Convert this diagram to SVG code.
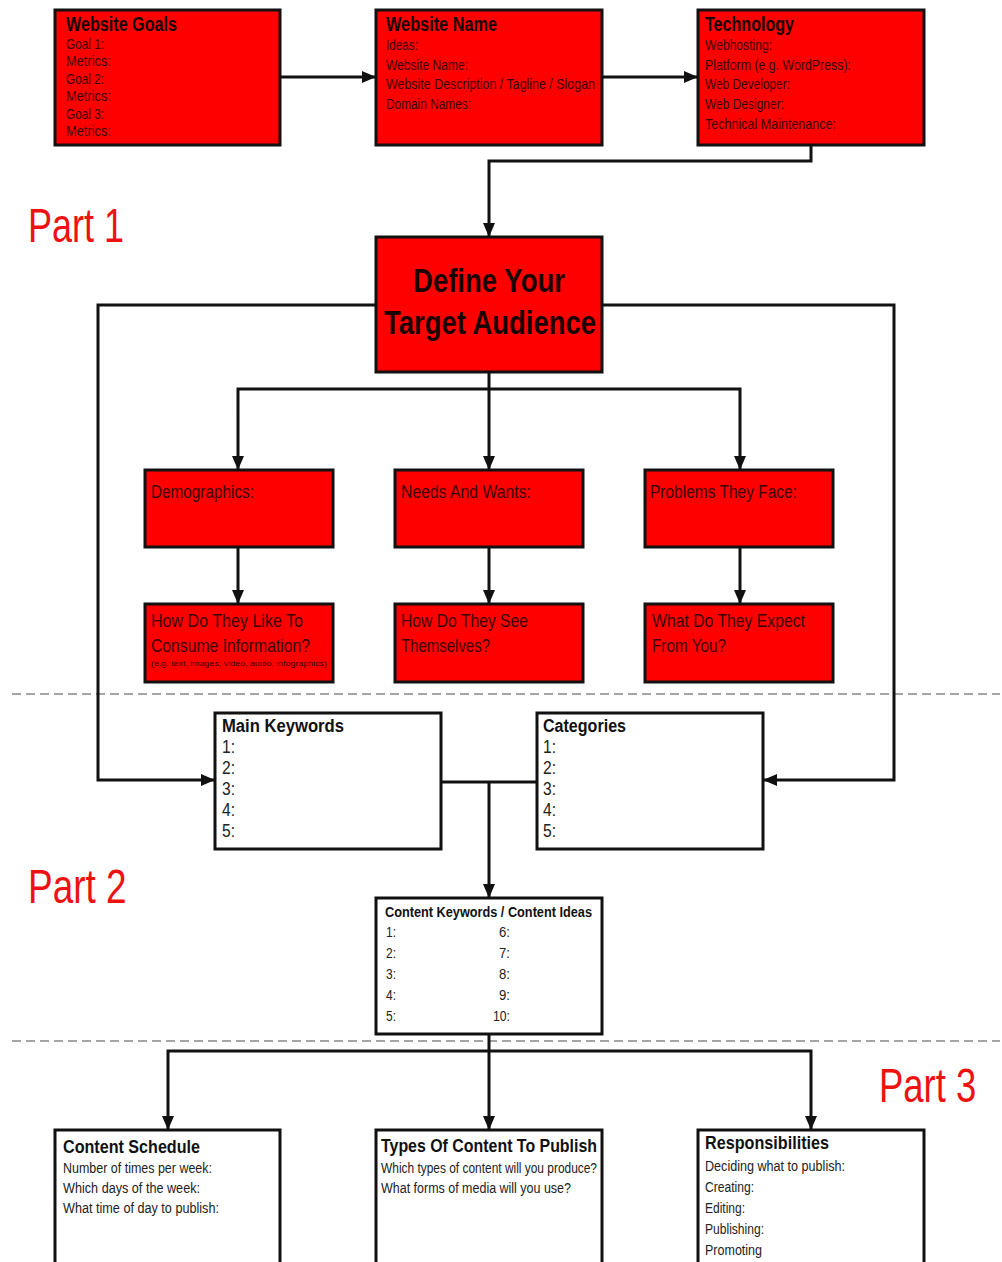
<svg xmlns="http://www.w3.org/2000/svg" width="1002" height="1262" viewBox="0 0 1002 1262">
<style>
text{font-family:"Liberation Sans",Arial,sans-serif}
.rbox{fill:#ff0000;stroke:#111;stroke-width:3}
.wbox{fill:#fff;stroke:#111;stroke-width:3}
.t{font-weight:bold;fill:#1a0000}
.rb{fill:#3a0000}
.wb{fill:#222}
.wt{font-weight:bold;fill:#111}
.part{fill:#ee1111;font-size:48px}
.conn{fill:none;stroke:#111;stroke-width:3}
.dash{stroke:#888;stroke-width:1.5;stroke-dasharray:9,5}
</style>
<defs>
<marker id="ah" markerUnits="userSpaceOnUse" markerWidth="14" markerHeight="12" refX="14" refY="6" orient="auto">
<path d="M0,0 L14,6 L0,12 z" fill="#111"/>
</marker>
</defs>
<rect width="1002" height="1262" fill="#fff"/>
<line class="dash" x1="12" y1="694" x2="1000" y2="694"/>
<line class="dash" x1="12" y1="1041" x2="1000" y2="1041"/>
<text class="part" transform="translate(28,242) scale(0.75,1)">Part 1</text>
<text class="part" transform="translate(28,903) scale(0.77,1)">Part 2</text>
<text class="part" transform="translate(879,1102) scale(0.76,1)">Part 3</text>
<g id="connectors">
<line class="conn" x1="280" y1="77" x2="376" y2="77" marker-end="url(#ah)"/>
<line class="conn" x1="602" y1="77" x2="698" y2="77" marker-end="url(#ah)"/>
<polyline class="conn" points="811,145 811,161 489,161 489,237" marker-end="url(#ah)"/>
<polyline class="conn" points="376,305 98,305 98,780 215,780" marker-end="url(#ah)"/>
<polyline class="conn" points="602,305 894,305 894,780 763,780" marker-end="url(#ah)"/>
<line class="conn" x1="489" y1="372" x2="489" y2="470" marker-end="url(#ah)"/>
<polyline class="conn" points="238,420 238,389 740,389 740,470" marker-end="url(#ah)"/>
<line class="conn" x1="238" y1="420" x2="238" y2="470" marker-end="url(#ah)"/>
<line class="conn" x1="238" y1="547" x2="238" y2="604" marker-end="url(#ah)"/>
<line class="conn" x1="489" y1="547" x2="489" y2="604" marker-end="url(#ah)"/>
<line class="conn" x1="740" y1="547" x2="740" y2="604" marker-end="url(#ah)"/>
<line class="conn" x1="441" y1="782" x2="537" y2="782"/>
<line class="conn" x1="489" y1="782" x2="489" y2="898" marker-end="url(#ah)"/>
<line class="conn" x1="489" y1="1034" x2="489" y2="1130" marker-end="url(#ah)"/>
<polyline class="conn" points="168,1100 168,1051 811,1051 811,1130" marker-end="url(#ah)"/>
<line class="conn" x1="168" y1="1100" x2="168" y2="1130" marker-end="url(#ah)"/>
</g>
<g id="website-goals">
<rect class="rbox" x="55" y="10" width="225" height="135"/>
<text class="t" x="66" y="31" font-size="20" textLength="111" lengthAdjust="spacingAndGlyphs">Website Goals</text>
<g class="rb" font-size="14"><text x="66" y="49" textLength="38" lengthAdjust="spacingAndGlyphs">Goal 1:</text><text x="66" y="66" textLength="45" lengthAdjust="spacingAndGlyphs">Metrics:</text><text x="66" y="84" textLength="38" lengthAdjust="spacingAndGlyphs">Goal 2:</text><text x="66" y="101" textLength="45" lengthAdjust="spacingAndGlyphs">Metrics:</text><text x="66" y="119" textLength="38" lengthAdjust="spacingAndGlyphs">Goal 3:</text><text x="66" y="136" textLength="45" lengthAdjust="spacingAndGlyphs">Metrics:</text></g>
</g>
<g id="website-name">
<rect class="rbox" x="376" y="10" width="226" height="135"/>
<text class="t" x="386" y="31" font-size="20" textLength="111" lengthAdjust="spacingAndGlyphs">Website Name</text>
<g class="rb" font-size="14"><text x="386" y="50" textLength="32" lengthAdjust="spacingAndGlyphs">Ideas:</text><text x="386" y="70" textLength="82" lengthAdjust="spacingAndGlyphs">Website Name:</text><text x="386" y="89" textLength="209" lengthAdjust="spacingAndGlyphs">Website Description / Tagline / Slogan</text><text x="386" y="109" textLength="85" lengthAdjust="spacingAndGlyphs">Domain Names:</text></g>
</g>
<g id="technology">
<rect class="rbox" x="698" y="10" width="226" height="135"/>
<text class="t" x="705" y="31" font-size="20" textLength="89" lengthAdjust="spacingAndGlyphs">Technology</text>
<g class="rb" font-size="14"><text x="705" y="50" textLength="67" lengthAdjust="spacingAndGlyphs">Webhosting:</text><text x="705" y="70" textLength="146" lengthAdjust="spacingAndGlyphs">Platform (e.g. WordPress):</text><text x="705" y="89" textLength="85" lengthAdjust="spacingAndGlyphs">Web Developer:</text><text x="705" y="109" textLength="79" lengthAdjust="spacingAndGlyphs">Web Designer:</text><text x="705" y="129" textLength="131" lengthAdjust="spacingAndGlyphs">Technical Maintenance:</text></g>
</g>
<g id="define-audience">
<rect class="rbox" x="376" y="237" width="226" height="135"/>
<text class="t" x="413" y="292" font-size="34" textLength="152" lengthAdjust="spacingAndGlyphs">Define Your</text>
<text class="t" x="384" y="334" font-size="34" textLength="212" lengthAdjust="spacingAndGlyphs">Target Audience</text>
</g>
<g id="demographics">
<rect class="rbox" x="145" y="470" width="188" height="77"/>
<text class="rb" x="151" y="498" font-size="18" textLength="103" lengthAdjust="spacingAndGlyphs">Demographics:</text>
</g>
<g id="needs-wants">
<rect class="rbox" x="395" y="470" width="188" height="77"/>
<text class="rb" x="401" y="498" font-size="18" textLength="130" lengthAdjust="spacingAndGlyphs">Needs And Wants:</text>
</g>
<g id="problems">
<rect class="rbox" x="645" y="470" width="188" height="77"/>
<text class="rb" x="650" y="498" font-size="18" textLength="147" lengthAdjust="spacingAndGlyphs">Problems They Face:</text>
</g>
<g id="consume-info">
<rect class="rbox" x="145" y="604" width="188" height="78"/>
<text class="rb" x="151" y="627" font-size="19" textLength="152" lengthAdjust="spacingAndGlyphs">How Do They Like To</text>
<text class="rb" x="151" y="652" font-size="19" textLength="159" lengthAdjust="spacingAndGlyphs">Consume Information?</text>
<text class="rb" x="151" y="666" font-size="8" textLength="176" lengthAdjust="spacingAndGlyphs">(e.g. text, images, video, audio, infographics)</text>
</g>
<g id="see-themselves">
<rect class="rbox" x="395" y="604" width="188" height="78"/>
<text class="rb" x="401" y="627" font-size="19" textLength="127" lengthAdjust="spacingAndGlyphs">How Do They See</text>
<text class="rb" x="401" y="652" font-size="19" textLength="89" lengthAdjust="spacingAndGlyphs">Themselves?</text>
</g>
<g id="expect">
<rect class="rbox" x="645" y="604" width="188" height="78"/>
<text class="rb" x="652" y="627" font-size="19" textLength="153" lengthAdjust="spacingAndGlyphs">What Do They Expect</text>
<text class="rb" x="652" y="652" font-size="19" textLength="74" lengthAdjust="spacingAndGlyphs">From You?</text>
</g>
<g id="main-keywords">
<rect class="wbox" x="215" y="713" width="226" height="136"/>
<text class="wt" x="222" y="732" font-size="18" textLength="122" lengthAdjust="spacingAndGlyphs">Main Keywords</text>
<g class="wb" font-size="18"><text x="222" y="753" textLength="13" lengthAdjust="spacingAndGlyphs">1:</text><text x="222" y="774" textLength="13" lengthAdjust="spacingAndGlyphs">2:</text><text x="222" y="795" textLength="13" lengthAdjust="spacingAndGlyphs">3:</text><text x="222" y="816" textLength="13" lengthAdjust="spacingAndGlyphs">4:</text><text x="222" y="837" textLength="13" lengthAdjust="spacingAndGlyphs">5:</text></g>
</g>
<g id="categories">
<rect class="wbox" x="537" y="713" width="226" height="136"/>
<text class="wt" x="543" y="732" font-size="18" textLength="83" lengthAdjust="spacingAndGlyphs">Categories</text>
<g class="wb" font-size="18"><text x="543" y="753" textLength="13" lengthAdjust="spacingAndGlyphs">1:</text><text x="543" y="774" textLength="13" lengthAdjust="spacingAndGlyphs">2:</text><text x="543" y="795" textLength="13" lengthAdjust="spacingAndGlyphs">3:</text><text x="543" y="816" textLength="13" lengthAdjust="spacingAndGlyphs">4:</text><text x="543" y="837" textLength="13" lengthAdjust="spacingAndGlyphs">5:</text></g>
</g>
<g id="content-keywords">
<rect class="wbox" x="376" y="898" width="226" height="136"/>
<text class="wt" x="385" y="917" font-size="14" textLength="207" lengthAdjust="spacingAndGlyphs">Content Keywords / Content Ideas</text>
<g class="wb" font-size="14"><text x="386" y="937" textLength="10" lengthAdjust="spacingAndGlyphs">1:</text><text x="386" y="958" textLength="10" lengthAdjust="spacingAndGlyphs">2:</text><text x="386" y="979" textLength="10" lengthAdjust="spacingAndGlyphs">3:</text><text x="386" y="1000" textLength="10" lengthAdjust="spacingAndGlyphs">4:</text><text x="386" y="1021" textLength="10" lengthAdjust="spacingAndGlyphs">5:</text>
<text x="499" y="937" textLength="11" lengthAdjust="spacingAndGlyphs">6:</text><text x="499" y="958" textLength="11" lengthAdjust="spacingAndGlyphs">7:</text><text x="499" y="979" textLength="11" lengthAdjust="spacingAndGlyphs">8:</text><text x="499" y="1000" textLength="11" lengthAdjust="spacingAndGlyphs">9:</text><text x="493" y="1021" textLength="17" lengthAdjust="spacingAndGlyphs">10:</text></g>
</g>
<g id="content-schedule">
<rect class="wbox" x="55" y="1130" width="225" height="140"/>
<text class="wt" x="63" y="1153" font-size="19" textLength="137" lengthAdjust="spacingAndGlyphs">Content Schedule</text>
<g class="wb" font-size="14"><text x="63" y="1173" textLength="149" lengthAdjust="spacingAndGlyphs">Number of times per week:</text><text x="63" y="1193" textLength="137" lengthAdjust="spacingAndGlyphs">Which days of the week:</text><text x="63" y="1213" textLength="156" lengthAdjust="spacingAndGlyphs">What time of day to publish:</text></g>
</g>
<g id="types-content">
<rect class="wbox" x="376" y="1130" width="226" height="140"/>
<text class="wt" x="381" y="1152" font-size="19" textLength="216" lengthAdjust="spacingAndGlyphs">Types Of Content To Publish</text>
<g class="wb" font-size="14"><text x="381" y="1173" textLength="216" lengthAdjust="spacingAndGlyphs">Which types of content will you produce?</text><text x="381" y="1193" textLength="190" lengthAdjust="spacingAndGlyphs">What forms of media will you use?</text></g>
</g>
<g id="responsibilities">
<rect class="wbox" x="698" y="1130" width="226" height="140"/>
<text class="wt" x="705" y="1149" font-size="19" textLength="124" lengthAdjust="spacingAndGlyphs">Responsibilities</text>
<g class="wb" font-size="14"><text x="705" y="1171" textLength="140" lengthAdjust="spacingAndGlyphs">Deciding what to publish:</text><text x="705" y="1192" textLength="49" lengthAdjust="spacingAndGlyphs">Creating:</text><text x="705" y="1213" textLength="40" lengthAdjust="spacingAndGlyphs">Editing:</text><text x="705" y="1234" textLength="59" lengthAdjust="spacingAndGlyphs">Publishing:</text><text x="705" y="1255" textLength="57" lengthAdjust="spacingAndGlyphs">Promoting</text></g>
</g>
</svg>
